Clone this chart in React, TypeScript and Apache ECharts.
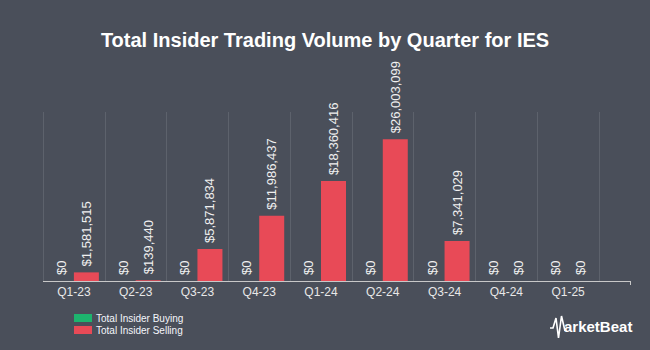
import React, { useEffect, useRef } from "react";
import * as echarts from "echarts";

const categories = ["Q1-23", "Q2-23", "Q3-23", "Q4-23", "Q1-24", "Q2-24", "Q3-24", "Q4-24", "Q1-25"];
const buying = [0, 0, 0, 0, 0, 0, 0, 0, 0];
const selling = [1581515, 139440, 5871834, 11986437, 18360416, 26003099, 7341029, 0, 0];

const fmt = (v: number) => "$" + Math.round(v).toLocaleString("en-US");

export default function App() {
  const ref = useRef<HTMLDivElement>(null);
  useEffect(() => {
    const chart = echarts.init(ref.current!, null, { renderer: "svg" });
    const label = {
      show: true,
      position: "top" as const,
      rotate: 90,
      align: "left" as const,
      verticalAlign: "middle" as const,
      distance: 6,
      color: "#f0f0f0",
      fontSize: 13,
      fontFamily: "Liberation Sans, Arial, sans-serif",
      formatter: (p: any) => fmt(p.value),
    };
    chart.setOption({
      animation: false,
      backgroundColor: "#4a4f5a",
      title: {
        text: "Total Insider Trading Volume by Quarter for IES",
        left: "center",
        top: 25,
        textStyle: {
          color: "#ffffff",
          fontSize: 20,
          fontWeight: "bold",
          fontFamily: "Liberation Sans, Arial, sans-serif",
        },
      },
      legend: {
        orient: "vertical",
        left: 74,
        top: 313,
        padding: 0,
        itemWidth: 18,
        itemHeight: 8,
        itemGap: 2,
        icon: "rect",
        textStyle: { color: "#f4f6fb", fontSize: 10, fontFamily: "Liberation Sans, Arial, sans-serif", padding: [0, 0, 0, -1] },
        data: ["Total Insider Buying", "Total Insider Selling"],
      },
      grid: { left: 43, width: 556, top: 112, bottom: 69, containLabel: false },
      xAxis: {
        type: "category",
        data: categories,
        axisLine: { show: false },
        axisTick: { show: false },
        axisLabel: {
          color: "#e8e8e8",
          fontSize: 12,
          margin: 5,
          fontFamily: "Liberation Sans, Arial, sans-serif",
        },
        splitLine: { show: true, lineStyle: { color: "#5d626c", width: 1 } },
      },
      yAxis: {
        type: "value",
        min: 0,
        max: 31000000,
        show: false,
        splitLine: { show: false },
      },
      series: [
        {
          name: "Total Insider Buying",
          type: "bar",
          data: buying,
          barWidth: 25,
          barGap: "0%",
          itemStyle: { color: "#1db46e" },
          label,
        },
        {
          name: "Total Insider Selling",
          type: "bar",
          data: selling,
          barWidth: 25,
          itemStyle: { color: "#e84a57" },
          label,
        },
      ],
      graphic: [
        {
          type: "line",
          shape: { x1: 43, y1: 281.5, x2: 631, y2: 281.5 },
          style: { stroke: "#c8c8c8", lineWidth: 1 },
          z: 10,
        },
        {
          type: "line",
          shape: { x1: 630.5, y1: 281, x2: 630.5, y2: 285 },
          style: { stroke: "#c8c8c8", lineWidth: 1 },
          z: 10,
        },
        {
          type: "polyline",
          shape: {
            points: [
              [550, 328],
              [553, 328],
              [556, 318],
              [558.5, 338],
              [561.5, 316],
              [565, 331],
            ],
          },
          style: { stroke: "#ffffff", lineWidth: 1.6, fill: null },
        },
        {
          type: "text",
          x: 564,
          y: 326,
          style: {
            text: "arketBeat",
            fill: "#ffffff",
            font: "bold 15px 'Liberation Sans', Arial, sans-serif",
            textVerticalAlign: "middle",
          },
        },
      ],
    });
    return () => chart.dispose();
  }, []);
  return <div ref={ref} style={{ position: "fixed", left: 0, top: 0, width: 650, height: 350 }} />;
}
